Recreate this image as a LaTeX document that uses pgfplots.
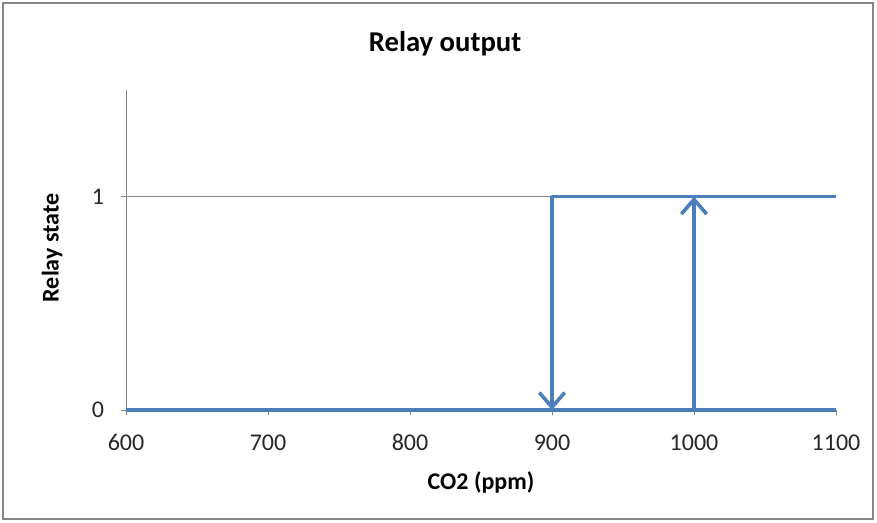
\documentclass[border=0pt]{standalone}
\usepackage{pgfplots}
\pgfplotsset{compat=1.18}
\usepackage{fontspec}
\setmainfont{Carlito}
\usetikzlibrary{arrows.meta}
\definecolor{xlblue}{HTML}{4A7EBB}
\definecolor{xlgray}{HTML}{868686}
\begin{document}
\begin{tikzpicture}
\useasboundingbox (-94.5pt,-84pt) rectangle (563.25pt,307.5pt);
\draw[xlgray, line width=1.2pt] (-92.25pt,-81.75pt) rectangle (560.25pt,305.25pt);
\node[font=\fontsize{21.5}{24}\selectfont\bfseries] at (239.25pt,274.5pt) {Relay output};
\begin{axis}[
  at={(0,0)}, anchor=south west,
  scale only axis, width=532.5pt, height=240pt,
  xmin=600, xmax=1100, ymin=0, ymax=1.5,
  xtick={600,700,800,900,1000,1100},
  ytick={0,1},
  axis x line*=bottom, axis y line*=left,
  axis line style={xlgray, line width=0.6pt},
  tick align=outside, major tick length=4pt,
  tick style={xlgray, line width=0.6pt},
  ymajorgrids=true,
  grid style={xlgray, line width=0.6pt},
  ticklabel style={font=\fontsize{18}{20}\selectfont, text=black!85},
  /pgf/number format/assume math mode=true,
  /pgf/number format/1000 sep={},
  xticklabel style={anchor=center, yshift=-20.5pt},
  yticklabel style={anchor=center, xshift=-17pt},
  xlabel={\bfseries CO2 (ppm)},
  ylabel={\bfseries Relay state},
  label style={font=\fontsize{18}{20}\selectfont},
  xlabel style={at={(axis description cs:0.5,0)}, anchor=center, yshift=-54pt},
  ylabel style={at={(axis description cs:0,0.5)}, anchor=center, xshift=1.5pt, yshift=55.5pt},
  clip=false,
]
\addplot[xlblue, line width=2.7pt, line join=round] coordinates {(600,0) (1100,0)};
\addplot[xlblue, line width=2.7pt, line join=round, -{Straight Barb[length=11pt,width=19pt]}]
  coordinates {(1100,1) (900,1) (900,0)};
\addplot[xlblue, line width=2.7pt, -{Straight Barb[length=11pt,width=19pt]}]
  coordinates {(1000,0) (1000,1)};
\end{axis}
\end{tikzpicture}
\end{document}
